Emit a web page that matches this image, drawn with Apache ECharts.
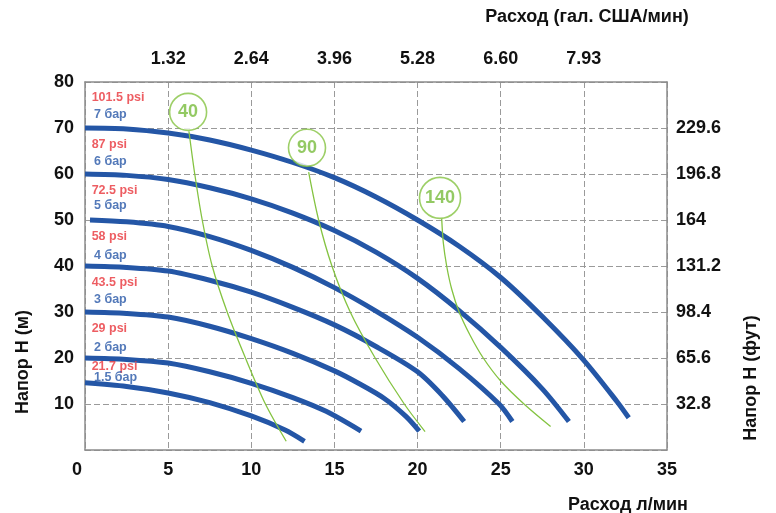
<!DOCTYPE html>
<html>
<head>
<meta charset="utf-8">
<script src="https://cdn.jsdelivr.net/npm/echarts@6/dist/echarts.min.js"></script>
<style>
html,body{margin:0;padding:0;background:#fff;}
#chart{width:776px;height:513px;}
</style>
</head>
<body>
<div id="chart"></div>
<script>
// ---- Data ----
const xTicks = [0, 5, 10, 15, 20, 25, 30, 35];          // л/мин
const galLabels = ['1.32', '2.64', '3.96', '5.28', '6.60', '7.93']; // for 5..30 л/мин
const yTicks = [0, 10, 20, 30, 40, 50, 60, 70, 80];       // м
const ftLabels = ['32.8', '65.6', '98.4', '131.2', '164', '196.8', '229.6']; // for 10..70 м

const curve7bar  = [[0,70],[2.5,69.8],[5,68.9],[7.5,67.4],[10,65.2],[12.5,62.5],[15,59.2],[17.5,55],[20,50],[22.5,44.3],[25,37.5],[27.5,29],[30,19.5],[32,10.5],[32.7,7]];
const curve6bar  = [[0,60],[2.5,59.7],[5,58.8],[7.5,57],[10,54.6],[12.5,51.5],[15,47.7],[17.5,43],[20,37.3],[22.5,30.3],[25,22.3],[27.5,13.3],[29.1,6.2]];
const curve5bar  = [[0.3,50],[2.5,49.6],[5,48.6],[7.5,46.4],[10,43.4],[12.5,39.7],[15,35.3],[17.5,30.2],[20,24.5],[22.5,17.7],[24.9,10],[25.7,6.2]];
const curve4bar  = [[0,40],[2.5,39.7],[5,38.9],[7.5,36.9],[10,34.3],[12.5,31],[15,27.2],[17.5,22.5],[20,17],[21.5,11.8],[22.8,6.2]];
const curve3bar  = [[0,30],[2.5,29.7],[5,28.9],[7.5,26.9],[10,24.2],[12.5,21],[15,17.2],[16.5,14.4],[18,11.2],[19.3,7.3],[20.1,4.1]];
const curve2bar  = [[0,20],[2.5,19.7],[5,18.9],[7.5,17],[10,14.5],[12.5,11.4],[14.5,8.4],[16.6,4.1]];
const curve15bar = [[0,14.6],[2.5,13.8],[5,12.4],[7.5,10.3],[10,7.4],[12,4.4],[13.2,1.9]];

const green40  = [[6.25,69.3],[6.6,60],[7.05,50],[7.65,40],[8.55,30],[9.65,20],[10.85,10],[12.1,1.9]];
const green90  = [[13.45,60.4],[14.05,50],[14.85,40],[15.95,30],[17.45,20],[19.2,10],[20.45,4]];
const green140 = [[21.45,50.3],[21.55,45],[21.75,40],[22.05,35],[22.5,30],[23.15,25],[23.95,20],[25,15],[26.4,10],[28,5.1]];

const circleLabels = ['40', '90', '140'];
const circlePoints = [[6.2,73.5],[13.35,65.7],[21.35,54.8]];

const psiLabels = ['101.5 psi','87 psi','72.5 psi','58 psi','43.5 psi','29 psi','21.7 psi'];
const psiAnchors = [[0.4,76.6],[0.4,66.3],[0.4,56.5],[0.4,46.5],[0.4,36.4],[0.4,26.3],[0.4,18.1]];
const barLabels = ['7 бар','6 бар','5 бар','4 бар','3 бар','2 бар','1.5 бар'];
const barAnchors = [[0.54,73],[0.54,62.8],[0.54,53.1],[0.54,42.3],[0.54,32.6],[0.54,22.2],[0.54,15.7]];

// ---- Styles ----
const FONT = '"Liberation Sans", Arial, sans-serif';
const BLUE = '#2456a6';
const GREEN = '#84c341';
const RED = '#e8353b';
const TXTBLUE = '#2857a8';
const AXIS = '#8c8c8c';

const galMap = {}; xTicks.slice(1, 7).forEach((v, i) => galMap[v] = galLabels[i]);
const ftMap = {}; yTicks.slice(1, 8).forEach((v, i) => ftMap[v] = ftLabels[i]);

const chart = echarts.init(document.getElementById('chart'), null, {renderer: 'canvas'});

const blueCurves = [curve7bar, curve6bar, curve5bar, curve4bar, curve3bar, curve2bar, curve15bar];
const greenCurves = [green40, green90, green140];

const series = [];
blueCurves.forEach(d => series.push({
  type: 'line', data: d, smooth: 0.3, symbol: 'none', silent: true,
  lineStyle: {color: BLUE, width: 5, cap: 'butt'}, z: 3
}));
greenCurves.forEach(d => series.push({
  type: 'line', data: d, smooth: 0.3, symbol: 'none', silent: true,
  lineStyle: {color: GREEN, width: 1.3}, z: 4
}));
series.push({
  type: 'scatter', z: 5, silent: true,
  data: circlePoints.map((p, i) => ({value: p, name: circleLabels[i], symbolSize: circleLabels[i].length > 2 ? 41 : 37})),
  itemStyle: {color: '#fff', borderColor: GREEN, borderWidth: 1.6},
  label: {show: true, position: 'inside', formatter: p => p.name, color: '#78bb3c', fontFamily: FONT, fontWeight: 'bold', fontSize: 18}
});
series.push({
  type: 'scatter', z: 6, silent: true, symbolSize: 0,
  data: psiAnchors.map((p, i) => ({value: p, name: psiLabels[i]})),
  label: {show: true, position: 'inside', align: 'left', verticalAlign: 'middle', formatter: p => p.name,
          color: RED, fontFamily: FONT, fontWeight: 'bold', fontSize: 12.5}
});
series.push({
  type: 'scatter', z: 6, silent: true, symbolSize: 0,
  data: barAnchors.map((p, i) => ({value: p, name: barLabels[i]})),
  label: {show: true, position: 'inside', align: 'left', verticalAlign: 'middle', formatter: p => p.name,
          color: TXTBLUE, fontFamily: FONT, fontWeight: 'bold', fontSize: 12.5}
});

const lbl = {fontFamily: FONT, fontWeight: 'bold', fontSize: 18, color: '#111'};

chart.setOption({
  animation: false,
  backgroundColor: '#fff',
  grid: {left: 85, right: 109, top: 82, bottom: 63},
  xAxis: [{
    type: 'value', position: 'bottom', min: 0, max: 35, interval: 5,
    axisLine: {show: true, lineStyle: {color: AXIS, width: 1.5}},
    axisTick: {show: false},
    splitLine: {show: true, lineStyle: {color: '#9a9a9a', type: [6, 3], width: 1}},
    axisLabel: Object.assign({}, lbl, {margin: 11,
      formatter: v => v === 0 ? '{z|0}' : String(v),
      rich: {z: {fontFamily: FONT, fontWeight: 'bold', fontSize: 18, color: '#111', padding: [0, 16, 0, 0]}}})
  }, {
    type: 'value', position: 'top', min: 0, max: 35, interval: 5,
    axisLine: {show: true, onZero: false, lineStyle: {color: AXIS, width: 1.5}},
    axisTick: {show: false}, splitLine: {show: false},
    axisLabel: Object.assign({}, lbl, {margin: 14, formatter: v => galMap[v] || ''})
  }],
  yAxis: [{
    type: 'value', position: 'left', min: 0, max: 80, interval: 10,
    axisLine: {show: true, lineStyle: {color: AXIS, width: 1.5}},
    axisTick: {show: false},
    splitLine: {show: true, lineStyle: {color: '#9a9a9a', type: [6, 3], width: 1}},
    axisLabel: Object.assign({}, lbl, {margin: 11, formatter: v => v === 0 ? '' : String(v)})
  }, {
    type: 'value', position: 'right', min: 0, max: 80, interval: 10,
    axisLine: {show: true, onZero: false, lineStyle: {color: AXIS, width: 1.5}},
    axisTick: {show: false}, splitLine: {show: false},
    axisLabel: Object.assign({}, lbl, {margin: 9, formatter: v => ftMap[v] || ''})
  }],
  graphic: [
    {type: 'text', x: 587, y: 17, style: {text: 'Расход (гал. США/мин)', font: 'bold 18px ' + FONT, fill: '#111', align: 'center', verticalAlign: 'middle'}},
    {type: 'text', x: 628, y: 505, style: {text: 'Расход л/мин', font: 'bold 18px ' + FONT, fill: '#111', align: 'center', verticalAlign: 'middle'}},
    {type: 'text', x: 23, y: 362, rotation: Math.PI / 2, style: {text: 'Напор Н (м)', font: 'bold 18px ' + FONT, fill: '#111', align: 'center', verticalAlign: 'middle'}},
    {type: 'text', x: 751, y: 378, rotation: Math.PI / 2, style: {text: 'Напор Н (фут)', font: 'bold 18px ' + FONT, fill: '#111', align: 'center', verticalAlign: 'middle'}}
  ],
  series: series
});
</script>
</body>
</html>
